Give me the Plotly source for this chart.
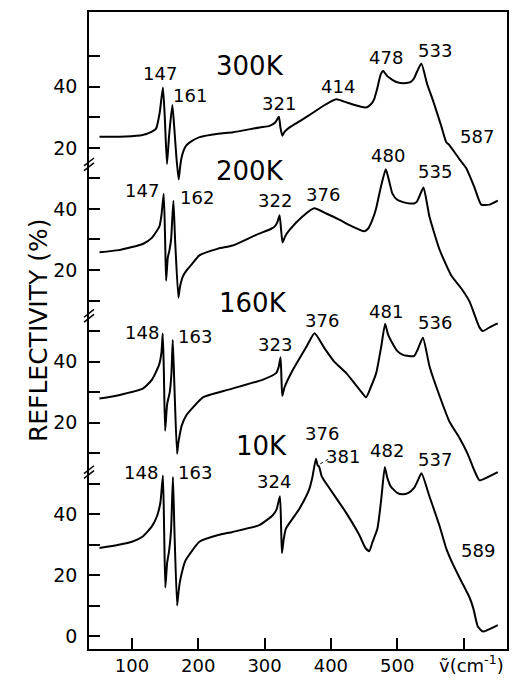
import plotly.graph_objects as go

# ---------------- data (reflectivity %, wavenumber cm^-1) ----------------
x_300 = [51, 90, 116, 130, 136.4, 141.8, 146.7, 149.5, 152.8, 156, 160.9, 164, 167, 170.4, 172.5, 174.5, 178, 182, 190, 202, 230, 252.3, 292.4, 307.6, 316, 321.6, 324, 326.7, 330, 337.7, 355, 372.8, 392, 408.1, 425, 443.2, 452.7, 460, 465.2, 470, 475, 478.8, 485, 492.8, 500, 510.4, 520, 525.5, 530, 536.5, 545, 553.7, 566.4, 573.9, 579, 593.2, 604, 616.6, 626.7, 639.3, 651.7]
y_300 = [23.6, 23.7, 24.2, 25.3, 26.3, 31.5, 39.8, 30, 14.7, 24, 34, 26, 17, 9.6, 13.5, 16.5, 19.2, 20.8, 22.2, 23.5, 24.6, 25.1, 26.7, 27.2, 28.3, 30.2, 26.5, 24, 25.2, 26.7, 29, 31.5, 34.2, 35.9, 34.8, 33.6, 33.2, 34.2, 35.9, 39.5, 44, 45.2, 43.5, 42.3, 41.5, 41.2, 41.5, 42.8, 45, 47.6, 41, 35.7, 27.2, 21.9, 20.8, 16.5, 13.4, 7, 1.4, 1.4, 2.7]

x_200 = [51, 80, 116.3, 130, 141.4, 144.5, 147.9, 150, 151.5, 154, 156.5, 159, 162.5, 165, 170, 172, 174, 177, 181.6, 190, 201.7, 230, 251.8, 287.5, 310, 315.1, 319, 322.6, 325, 327.1, 331, 337.7, 357.2, 374.8, 393, 412.5, 430, 450.2, 456, 462.7, 468, 475.3, 482.8, 488, 492.8, 500, 507.8, 515, 525.5, 530, 533, 539.7, 548.7, 563.8, 581.5, 596.5, 609, 624.1, 629.1, 640, 651.7]
y_200 = [25.8, 26.5, 28.5, 30.5, 34.3, 38, 45, 30, 16.5, 24, 26.4, 30, 42.7, 30, 10.9, 14, 16, 18, 19.6, 21.8, 24.8, 27, 28, 31.5, 33.5, 34.2, 35.5, 37.9, 33, 29, 31, 33.1, 37.5, 40.2, 38.5, 36.5, 34.5, 32.7, 33.5, 36.5, 40, 47.1, 53, 49, 45, 43, 42.3, 41.9, 41.8, 42.5, 43.9, 47, 37.4, 26.7, 18.2, 14, 9.7, 1.2, 0, 1.3, 2.5]

x_160 = [51, 80, 116.3, 130, 141, 144.5, 146.4, 148, 150, 153, 157, 159.5, 161.5, 164, 168, 170, 172, 175, 182, 190, 207, 247.3, 297.6, 317.7, 321, 324.1, 325.5, 326.7, 330, 342.7, 362.9, 375.4, 390, 405, 423, 437.6, 445, 453, 460, 468.4, 476, 481.8, 486, 492.8, 500, 507.8, 515, 525.5, 530, 538.8, 548.8, 563.8, 578.9, 594, 606.6, 615, 624.1, 635, 651.7]
y_160 = [27.9, 29, 31.1, 34, 39, 43, 49.2, 38, 17.3, 26, 30, 36, 47.1, 32, 9.8, 13.5, 16, 19, 22.4, 24.5, 28.3, 30.9, 34.1, 36.3, 38, 41.4, 34, 28.8, 31.5, 37.3, 44.8, 49.3, 44.5, 40, 36.3, 32.3, 30.3, 28.3, 31.5, 36.3, 45, 52.4, 49, 46, 43.5, 42.3, 41.9, 41.8, 43.5, 47.8, 38.4, 28.8, 20.3, 15, 9.6, 5, 1.1, 2, 3.8]

x_10 = [51, 80, 100, 116.3, 130, 138, 143, 146.7, 148.5, 150.3, 153, 156, 159, 161.8, 164, 168.1, 170, 172, 174.5, 180, 186.6, 201.7, 230, 251.8, 292, 312, 318, 323.2, 325, 326.2, 329, 332.2, 352.3, 367.3, 372, 377.4, 380, 382.4, 386, 392.5, 422.6, 442.8, 452, 457.8, 463, 470.2, 476, 481.3, 485, 490.3, 500, 507.8, 517, 525.5, 530, 536.6, 548.7, 563.8, 573.9, 581.5, 594, 609, 615, 621.6, 629.1, 651.7]
y_10 = [28.9, 30, 31, 32.7, 36, 39.5, 44, 52.7, 35, 16, 24, 28, 35, 52.2, 35, 10.1, 14, 17.5, 20.2, 24.5, 26.8, 31, 33.2, 34.2, 36.4, 39.6, 41.5, 45.9, 35, 27.3, 32, 35.3, 41.7, 48.1, 52, 58.2, 56, 55.5, 52.5, 50.2, 40.6, 33.2, 29, 27.9, 31, 35.3, 45, 55.5, 52, 49.1, 47, 46.5, 47, 48.6, 50.5, 53.4, 45.8, 36.2, 28.8, 24.8, 19.2, 12.8, 9, 3.2, 1.6, 3.7]

temperatures = ["300K", "200K", "160K", "10K"]
offsets = [140, 100, 50, 0]           # vertical stacking offsets of each spectrum
series = [(x_300, y_300), (x_200, y_200), (x_160, y_160), (x_10, y_10)]

# label positions in stacked data coordinates
temp_label_pos = [(277.4, 186.9), (277.4, 152.4), (282, 109.3), (295.5, 62.3)]
peak_labels = [
    ("147", 141.8, 184.3), ("161", 187, 177.3), ("321", 321.1, 174.4), ("414", 410.1, 180.2),
    ("478", 482.4, 189.5), ("533", 556.3, 192.0), ("587", 621.1, 163.6),
    ("147", 114.6, 146.0), ("162", 197.5, 143.8), ("322", 315.1, 142.8), ("376", 387.5, 144.7),
    ("480", 485.4, 157.5), ("535", 556.3, 152.1),
    ("148", 114.6, 99.4), ("163", 194.5, 98.1), ("323", 315.1, 95.5), ("376", 386, 103.5),
    ("481", 482.4, 106.4), ("536", 556.3, 102.9),
    ("148", 113.1, 53.7), ("163", 194.5, 53.7), ("324", 313.6, 50.8), ("376", 386, 66.5),
    ("381", 417.6, 58.8), ("482", 483.9, 61.0), ("537", 556.3, 57.8), ("589", 622.6, 28.1),
]

y_tickvals = list(range(0, 200, 10))
y_label_map = {0: "0", 20: "20", 40: "40", 70: "20", 90: "40", 120: "20", 140: "40", 160: "20", 180: "40"}
y_ticktext = [y_label_map.get(v, "") for v in y_tickvals]
x_tickvals = [100, 200, 300, 400, 500, 600]
x_ticktext = ["100", "200", "300", "400", "500", ""]
break_levels = [154.6, 105.0, 53.8]

XR = [35.2, 665.6]
YR = [-4.15, 204.5]
FONT = "DejaVu Sans"

fig = go.Figure()
for (xs, ys), off in zip(series, offsets):
    fig.add_trace(go.Scatter(x=xs, y=[v + off for v in ys], mode="lines",
                             line=dict(color="black", width=2, shape="spline", smoothing=0.5),
                             showlegend=False))

ann = []
for t, (ax_, ay_) in zip(temperatures, temp_label_pos):
    ann.append(dict(x=ax_, y=ay_, text=t, showarrow=False, font=dict(size=26, color="black", family=FONT)))
for t, ax_, ay_ in peak_labels:
    ann.append(dict(x=ax_, y=ay_, text=t, showarrow=False, font=dict(size=18, color="black", family=FONT)))
ann.append(dict(x=-0.16, y=0.5, xref="paper", yref="paper", text="REFLECTIVITY (%)", textangle=-90,
                showarrow=False, font=dict(size=25, color="black", family=FONT)))
ann.append(dict(x=612, y=-0.023, xref="x", yref="paper", text="ṽ(cm<sup>-1</sup>)", showarrow=False,
                yanchor="middle", font=dict(size=18, color="black", family=FONT)))

shapes = []
for b in break_levels:
    yp = (b - YR[0]) / (YR[1] - YR[0])
    dy = 1.0 / 653
    dx = 1.0 / 418
    for s in (-2.5, 2.5):
        shapes.append(dict(type="line", xref="paper", yref="paper",
                           x0=-5 * dx, y0=yp + (s - 4) * dy, x1=5 * dx, y1=yp + (s + 4) * dy,
                           line=dict(color="black", width=1.5)))
# leader for 381
shapes.append(dict(type="line", xref="x", yref="y", x0=384, y0=56.5, x1=396, y1=58.0,
                   line=dict(color="black", width=1, dash="dot")))

fig.update_layout(
    width=520, height=686,
    margin=dict(l=89, r=13, t=10, b=23),
    paper_bgcolor="white", plot_bgcolor="white",
    annotations=ann, shapes=shapes,
    font=dict(family=FONT, color="black"),
)
fig.update_xaxes(range=XR, tickvals=x_tickvals, ticktext=x_ticktext, ticks="inside", ticklen=11,
                 tickwidth=1.5, tickcolor="black", showgrid=False, zeroline=False,
                 showline=True, linecolor="black", linewidth=1.5, mirror=True,
                 tickfont=dict(size=18, family=FONT, color="black"))
fig.update_yaxes(range=YR, tickvals=y_tickvals, ticktext=y_ticktext, ticks="inside", ticklen=11,
                 tickwidth=1.5, tickcolor="black", showgrid=False, zeroline=False,
                 showline=True, linecolor="black", linewidth=1.5, mirror=True,
                 ticklabelstandoff=6,
                 tickfont=dict(size=19, family=FONT, color="black"))

fig.write_html("out.html")
